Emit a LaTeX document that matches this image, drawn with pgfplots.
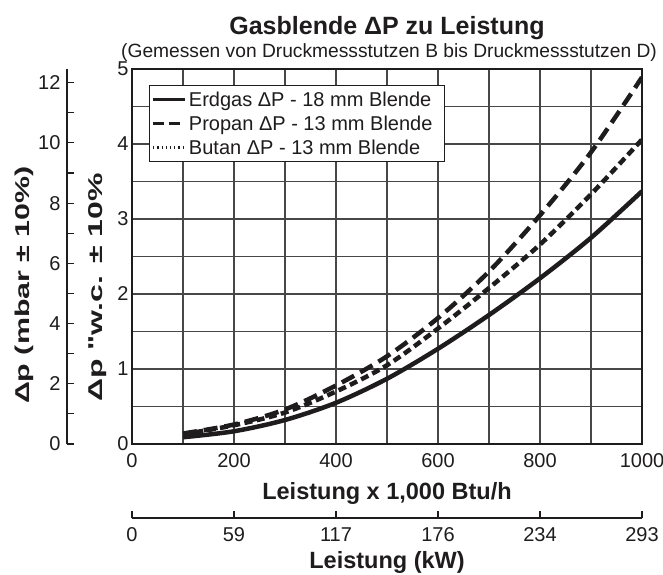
\documentclass[border=0pt]{standalone}
\usepackage{fontspec}
\setmainfont{Liberation Sans}
\newfontfamily\qfont{Liberation Sans}
\usepackage{pgfplots}
\pgfplotsset{compat=1.18}
\definecolor{ink}{RGB}{30,28,29}
\pgfplotsset{
  every axis/.append style={
    /pgf/number format/assume math mode=true,
    /pgf/number format/1000 sep={},
    ticklabel style={font=\fontsize{20}{24}\selectfont, text=ink},
    label style={font=\bfseries\fontsize{23.5}{28}\selectfont, text=ink},
  },
  mylegimg/.style={legend image code/.code={\draw[##1] (0pt,0pt) -- (32pt,0pt);}},
}
\begin{document}
\begin{tikzpicture}
\useasboundingbox (-132pt,-130pt) rectangle (531pt,444pt);

% left mbar axis
\begin{axis}[
  at={(-65pt,0pt)}, anchor=south west,
  width=10pt, height=375pt, scale only axis,
  xmin=0, xmax=1, ymin=0, ymax=12.454,
  axis x line=none, axis y line=left,
  axis line style={-, line width=1.2pt, ink},
  ytick={0,2,...,12}, minor ytick={1,3,...,11},
  tick align=inside, major tick length=7pt, minor tick length=7pt,
  tick style={line width=1.2pt, ink},
  yticklabel style={xshift=-3pt},
  ylabel={Δp (mbar ± 10\%)},
  ylabel style={font=\bfseries\fontsize{20}{24}\selectfont, at={(axis description cs:-4.3,0.424)}, anchor=center, rotate=0, xscale=1.52},
]
\addplot[draw=none] coordinates {(0,0)};
\end{axis}

% bottom kW axis
\begin{axis}[
  at={(0pt,-74pt)}, anchor=south west,
  width=510pt, height=10pt, scale only axis,
  xmin=0, xmax=1000, ymin=0, ymax=1,
  axis y line=none, axis x line=bottom,
  axis line style={-, line width=1.2pt, ink},
  xtick={0,200,...,1000}, xticklabels={0,59,117,176,234,293},
  tick align=inside, major tick length=7pt,
  tick style={line width=1.2pt, ink},
  xticklabel style={yshift=-6pt},
  xlabel={Leistung (kW)},
  xlabel style={at={(axis description cs:0.5,0)}, anchor=base, yshift=-50pt},
]
\addplot[draw=none] coordinates {(0,0)};
\end{axis}

% main axis
\begin{axis}[
  name=main, at={(0pt,0pt)}, anchor=south west,
  width=510pt, height=375pt, scale only axis,
  xmin=0, xmax=1000, ymin=0, ymax=5,
  xtick={0,200,...,1000}, ytick={0,1,...,5},
  minor xtick={100,300,...,900}, minor ytick={0.5,1.5,...,4.5},
  grid=both,
  major grid style={line width=1.1pt, black!72},
  minor grid style={line width=1.1pt, black!72},
  axis line style={line width=2.6pt, ink},
  tick style={draw=none},
  xticklabel style={yshift=-6pt},
  xlabel={Leistung x 1,000 Btu/h},
  xlabel style={at={(axis description cs:0.5,0)}, anchor=base, yshift=-55.8pt},
  ylabel={Δp {\qfont\bfseries "}w.c. ± 10\%},
  ylabel style={font=\bfseries\fontsize{20}{24}\selectfont, at={(axis description cs:-0.067,0.417)}, anchor=center, rotate=0, xscale=1.6},
  mylegimg,
  legend style={
    at={(axis description cs:0.0333,0.957)}, anchor=north west,
    draw=ink, line width=1pt, fill=white,
    font=\fontsize{20}{24}\selectfont, text=ink,
    inner xsep=2pt, inner ysep=4pt, row sep=4pt,
    cells={anchor=west},
  },
]
\addplot[ink, line width=4.5pt, smooth, forget plot] coordinates {
(100,0.09) (200,0.17) (300,0.32) (400,0.55) (500,0.87) (600,1.27) (700,1.72) (800,2.21) (900,2.75) (1000,3.37)};
\addplot[ink, line width=4.5pt, smooth, dash pattern=on 8pt off 4.5pt, forget plot] coordinates {
(100,0.13) (200,0.25) (300,0.42) (400,0.70) (500,1.05) (600,1.54) (700,2.08) (800,2.66) (900,3.33) (1000,4.06)};
\addplot[ink, line width=4.5pt, smooth, dash pattern=on 14pt off 7pt, forget plot] coordinates {
(100,0.14) (200,0.26) (300,0.46) (400,0.78) (500,1.17) (600,1.68) (700,2.30) (800,3.05) (900,3.89) (1000,4.89)};
\addlegendimage{ink, line width=3.5pt}
\addlegendentry{Erdgas ΔP - 18 mm Blende\hspace*{8pt}}
\addlegendimage{ink, line width=3.5pt, dash pattern=on 11pt off 5pt}
\addlegendentry{Propan ΔP - 13 mm Blende\hspace*{8pt}}
\addlegendimage{ink, line width=3pt, dash pattern=on 1.2pt off 3pt}
\addlegendentry{Butan ΔP - 13 mm Blende\hspace*{8pt}}
\end{axis}
\node[font=\bfseries\fontsize{25}{30}\selectfont, text=ink, anchor=base] at (255pt,409pt) {Gasblende ΔP zu Leistung};
\node[font=\fontsize{19.2}{23}\selectfont, text=ink, anchor=base] at (257pt,386pt) {(Gemessen von Druckmessstutzen B bis Druckmessstutzen D)};
\end{tikzpicture}
\end{document}
